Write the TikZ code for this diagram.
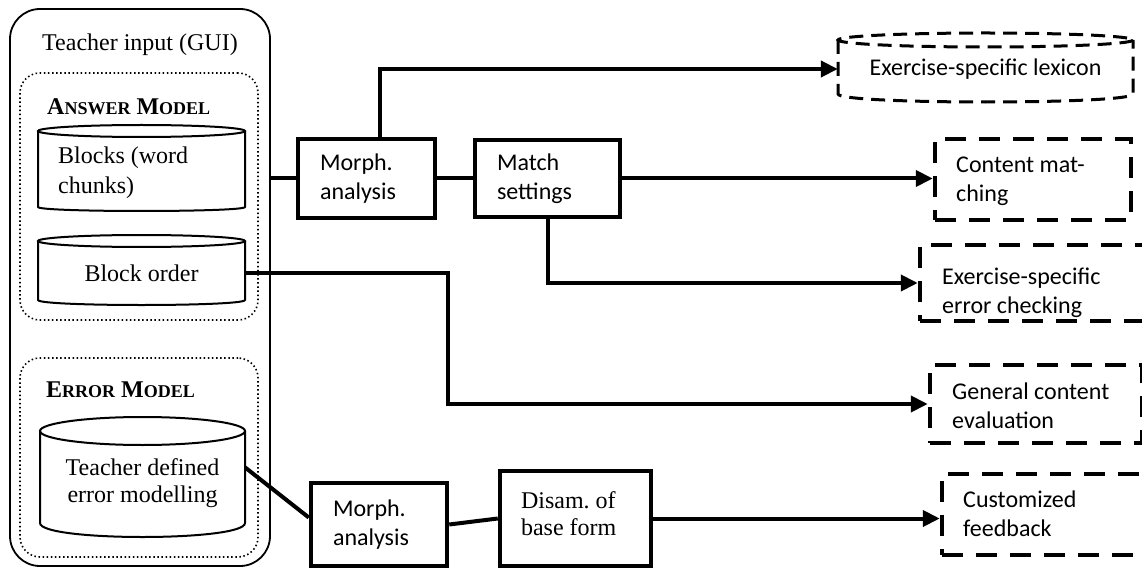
\documentclass[tikz,border=0pt]{standalone}
\usepackage{fontspec}
\setmainfont{Liberation Serif}
\newfontfamily\sansf{Carlito}
\usetikzlibrary{arrows.meta,calc}
\newcommand\fakesc[2]{#1{\fontsize{18}{18}\selectfont #2}}
\frenchspacing
\begin{document}
\begin{tikzpicture}[x=1pt,y=-1pt,
  font=\fontsize{24}{29}\selectfont,
  frame/.style={draw, line width=1.8pt, rounded corners=30pt, inner sep=0pt},
  dotbox/.style={draw, line width=1.6pt, dash pattern=on 1.5pt off 2.6pt, rounded corners=20pt, inner sep=0pt},
  cylline/.style={line width=2pt},
  lexline/.style={line width=3pt, dash pattern=on 14pt off 8pt},
  proc/.style={draw, line width=4.5pt, inner ysep=0pt, align=flush left},
  sans/.style={font=\sansf\fontsize{24}{29}\selectfont},
  outbox/.style={draw, line width=4.5pt, dash pattern=on 21pt off 13pt, inner sep=0pt},
  conn/.style={line width=4pt},
  arr/.style={conn, -{Triangle[length=17pt,width=16pt]}},
  lbl/.style={inner sep=0pt},
]
\clip (0,0) rectangle (1142,569);

% teacher input frame
\node[frame, minimum width=260pt, minimum height=557pt] (gui) at (140,287.5) {};
\node[lbl] (title) at (140,45) {Teacher input (GUI)};
\node[dotbox, minimum width=238pt, minimum height=247pt] (am) at (139,196.5) {};
\node[dotbox, minimum width=238pt, minimum height=199pt] (em) at (139,457.5) {};
\node[lbl, anchor=west] (amlbl) at (47,107) {\textbf{\fakesc{A}{NSWER} \fakesc{M}{ODEL}}};
\node[lbl, anchor=west] (emlbl) at (46,390) {\textbf{\fakesc{E}{RROR} \fakesc{M}{ODEL}}};

% cylinder 1
\draw[cylline] (38,131) -- (38,207) .. controls (38,212.33) and (245,212.33) .. (245,207) -- (245,131);
\draw[cylline] (141.5,131) ellipse [x radius=103.5, y radius=6];
\node[lbl, anchor=west, align=left, font=\fontsize{24}{30}\selectfont] (c1) at (58,173) {Blocks (word\\chunks)};

% cylinder 2
\draw[cylline] (38,241) -- (38,300) .. controls (38,306.67) and (245,306.67) .. (245,300) -- (245,241);
\draw[cylline] (141.5,241) ellipse [x radius=103.5, y radius=6];
\node[lbl, minimum width=207pt] (c2) at (141.5,273) {Block order};

% cylinder 3
\draw[cylline] (40,431) -- (40,523) .. controls (40,541.67) and (245,541.67) .. (245,523) -- (245,431);
\draw[cylline] (142.5,431) ellipse [x radius=102.5, y radius=14];
\node[lbl, minimum width=205pt, align=center, font=\fontsize{24}{27}\selectfont] (c3) at (142.5,483.5) {Teacher defined\\error modelling};

% process boxes
\node[proc, sans, minimum height=79pt, text width=93pt, inner xsep=22pt] (m1) at (366.5,178.5) {Morph.\\analysis};
\node[proc, sans, minimum height=77pt, text width=101pt, inner xsep=22pt] (ms) at (547.5,178.5) {Match\\settings};
\node[proc, sans, minimum height=83pt, text width=92pt, inner xsep=22pt] (m2) at (379,524.5) {Morph.\\analysis};
\node[proc, minimum height=95pt, text width=109pt, inner xsep=21pt, font=\fontsize{24}{27}\selectfont] (dis) at (575.5,518.5) {Disam. of\\base form\rule[-10pt]{0pt}{10pt}};

% lexicon (dashed cylinder)
\draw[lexline] (838,40) -- (838,94) .. controls (838,104.67) and (1133,104.67) .. (1133,94) -- (1133,40);
\draw[lexline] (985.5,40) ellipse [x radius=147.5, y radius=7];
\node[lbl, sans, minimum width=295pt, minimum height=60pt] (lex) at (985.5,69) {Exercise-specific lexicon};

% output boxes
\node[outbox, minimum width=196pt, minimum height=81pt] (cm) at (1033,179.5) {};
\node[lbl, sans, anchor=west, align=left] (cmt) at (956,181) {Content mat-\\ching};
\node[outbox, minimum width=250pt, minimum height=76pt] (ec) at (1045,283) {};
\node[lbl, sans, anchor=west, align=left] (ect) at (942,293) {Exercise-specific\\error checking};
\node[outbox, minimum width=212pt, minimum height=78pt] (gc) at (1036,404) {};
\node[lbl, sans, anchor=west, align=left] (gct) at (952,406) {General content\\evaluation};
\node[outbox, minimum width=228pt, minimum height=81pt] (cf) at (1056,514.5) {};
\node[lbl, sans, anchor=west, align=left] (cft) at (963,514) {Customized\\feedback};

% connectors
\draw[conn] (gui.east |- m1.west) -- (m1.west);
\draw[conn] (m1) -- (ms);
\draw[arr] ([xshift=13.5pt]m1.north) |- (lex.west);
\draw[arr] (ms.east) -- (ms.east -| cm.west);
\draw[arr] (ms.south) |- (ec.west);
\coordinate (bo) at (448,273);
\draw[arr] (c2.east) -- (bo) |- (gc.west);
\draw[conn] ([yshift=16pt]c3.east) -- ([yshift=7pt]m2.west);
\draw[conn] (m2.east) -- (dis.west);
\draw[arr] (dis.east) -- (dis.east -| cf.west);
\end{tikzpicture}
\end{document}
